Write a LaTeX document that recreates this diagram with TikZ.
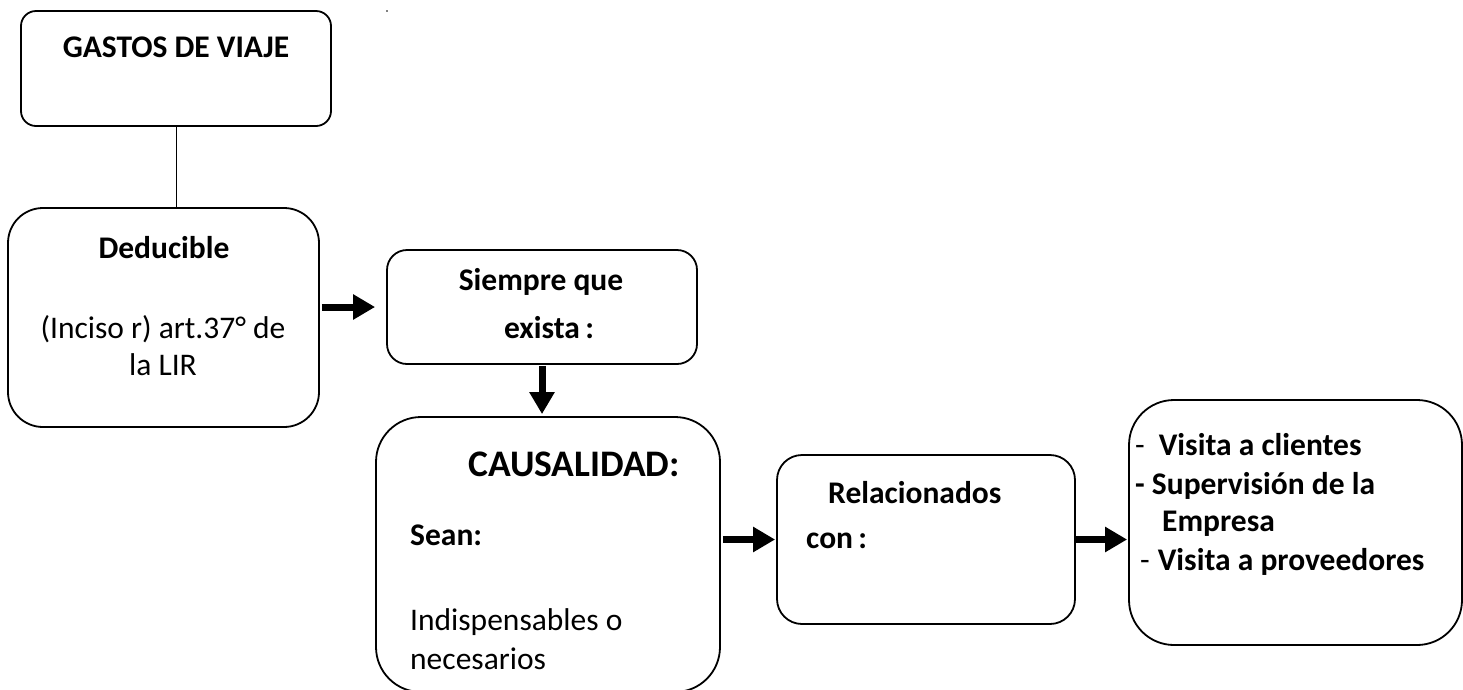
\documentclass[tikz,border=0pt]{standalone}
\usepackage{fontspec}
\setmainfont{Carlito}
\usetikzlibrary{arrows.meta}
\newcommand\fReg{\fontsize{31.5}{38}\selectfont}
\newcommand\fBig{\fontsize{37.5}{44}\selectfont\bfseries}
\begin{document}
\begin{tikzpicture}[x=1pt,y=-1pt,
  box/.style={draw, line width=1.8pt, rounded corners=#1, inner sep=0pt},
  bigarrow/.style={line width=7pt, -{Triangle[length=22pt,width=24pt]}},
  thin/.style={line width=1pt},
  lbl/.style={inner sep=0pt, anchor=base},
  lblw/.style={inner sep=0pt, anchor=base west}]
\useasboundingbox (0,0) rectangle (1463,689);
% boxes
\node[box=15pt, minimum width=310pt, minimum height=115pt] (b1) at (176,68.5) {};
\node[box=35pt, minimum width=311pt, minimum height=219pt] (b2) at (163.5,317.5) {};
\node[box=20pt, minimum width=310pt, minimum height=114pt] (b3) at (542,307) {};
\node[box=45pt, minimum width=344pt, minimum height=275pt] (b4) at (548,554.5) {};
\node[box=25pt, minimum width=298pt, minimum height=169pt] (b5) at (926,539.5) {};
\node[box=45pt, minimum width=333pt, minimum height=245pt] (b6) at (1295.5,522.5) {};
% tiny dot
\node[circle, fill, inner sep=0pt, minimum size=1.8pt] (dot) at (387,11) {};
% texts
\node[lbl] (t1) at (176,57) {\fReg\bfseries GASTOS DE VIAJE};
\node[lbl] (t2) at (164,258) {\fReg\bfseries Deducible};
\node[lbl] (t3) at (163,338) {\fReg (Inciso r) art.37° de};
\node[lbl] (t4) at (163,375) {\fReg la LIR};
\node[lbl] (t5) at (541,290) {\fReg\bfseries Siempre que};
\node[lbl] (t6) at (549,338) {\fReg\bfseries exista\,:};
\node[lblw] (t7) at (468,476) {\fBig CAUSALIDAD:};
\node[lblw] (t8) at (410,545) {\fReg\bfseries Sean:};
\node[lblw] (t9) at (410,630) {\fReg Indispensables o};
\node[lblw] (t10) at (410,669) {\fReg necesarios};
\node[lblw] (t11) at (828,503) {\fReg\bfseries Relacionados};
\node[lblw] (t12) at (806,548) {\fReg\bfseries con\,:};
\node[lblw] (t13) at (1135,455) {\fReg -\hspace{14pt}\bfseries Visita a clientes};
\node[lblw] (t14) at (1135,494) {\fReg\bfseries - Supervisión de la};
\node[lblw] (t15) at (1162,531) {\fReg\bfseries Empresa};
\node[lblw] (t16) at (1140,570) {\fReg -\hspace{8pt}\bfseries Visita a proveedores};
% connectors
\draw[thin] (b1.south) -- (b1.south |- b2.north);
\draw[bigarrow, shorten <=2pt, shorten >=11pt] (b2.east |- b3.west) -- (b3.west);
\draw[bigarrow, shorten <=1pt, shorten >=2pt] (b3.south) -- (b3.south |- b4.north);
\draw[bigarrow, shorten <=2pt, shorten >=1pt] (b4.east |- b5.west) -- (b5.west);
\draw[bigarrow, shorten <=0pt, shorten >=1pt] (b5.east) -- (b5.east -| b6.west);
\end{tikzpicture}
\end{document}
